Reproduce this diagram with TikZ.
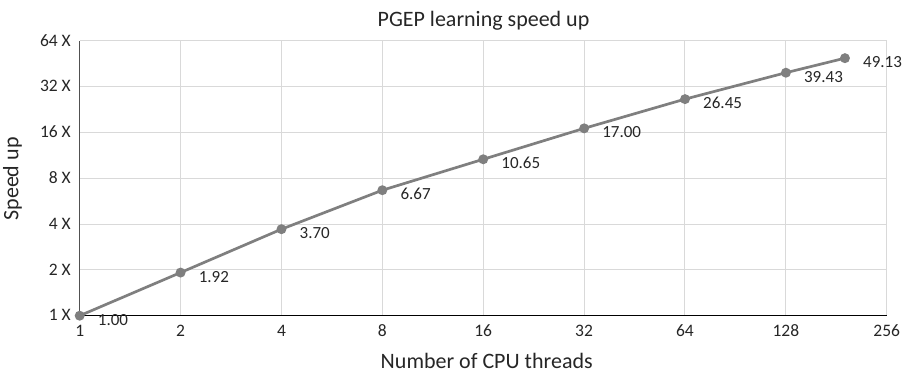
\documentclass[tikz,border=0pt]{standalone}
\usepackage{fontspec}
\setmainfont{Carlito}
\usetikzlibrary{calc}
\definecolor{SeriesGray}{HTML}{7F7F7F}
\definecolor{GridGray}{HTML}{D9D9D9}
\definecolor{InkGray}{HTML}{262626}
\newcommand{\XUnit}{100.875pt}
\newcommand{\YUnit}{45.83pt}
\tikzset{Dot/.style={
    circle,
    inner sep=0pt,
    minimum size=10pt,
    fill=SeriesGray,
    },
  ValLabel/.style={
    anchor=west,
    inner sep=0pt,
    text=InkGray,
    font=\fontsize{17}{19}\selectfont,
    },
}

\begin{document}
\begin{tikzpicture}[x=\XUnit, y=\YUnit,
    grid/.style={GridGray, line width=1pt},
    tick/.style={inner sep=0pt, text=InkGray, font=\fontsize{17.5}{19}\selectfont},
    axtitle/.style={inner sep=0pt, text=InkGray, font=\fontsize{22}{24}\selectfont},
]
\useasboundingbox (-79.7pt,-58.3pt) rectangle (831.3pt,315.7pt);
% grid
\foreach \i in {1,...,8} { \draw[grid] (\i,0) -- (\i,6); }
\foreach \j in {1,...,6} { \draw[grid] (0,\j) -- (8,\j); }
% axes
\draw[InkGray!80, line width=1.3pt] (0,0) -- (0,6);
\draw[black, line width=1.3pt] (0,0) -- (8,0);
% tick labels
\foreach \i/\t in {0/1,1/2,2/4,3/8,4/16,5/32,6/64,7/128,8/256}
  { \node[tick, anchor=base] (xt\i) at ($(\i,0)+(0,-21pt)$) {\t}; }
\foreach \j/\t in {0/1,1/2,2/4,3/8,4/16,5/32,6/64}
  { \node[tick, anchor=base east] (yt\j) at ($(0,\j)+(-8.7pt,-5.3pt)$) {\t\ X}; }
% titles
\node[axtitle, anchor=base] (title) at (403.8pt,289pt) {PGEP learning speed up};
\node[axtitle, anchor=base] (xtitle) at (407pt,-53pt) {Number of CPU threads};
\node[axtitle, anchor=base, rotate=90] (ytitle) at (-61.4pt,136.7pt) {Speed up};
% data
\foreach \n/\t/\s in {1/1/1.00, 2/2/1.92, 3/4/3.70, 4/8/6.67, 5/16/10.65,
    6/32/17.00, 7/64/26.45, 8/128/39.43, 9/192/49.13}
  {
  \pgfmathsetmacro{\lx}{ln(\t)/ln(2)}
  \pgfmathsetmacro{\ly}{ln(\s)/ln(2)}
  \coordinate (p\n) at (\lx,\ly);
  }
\draw[SeriesGray, line width=2.7pt, line join=round]
  (p1) \foreach \n in {2,...,9} { -- (p\n) };
\foreach \n/\s in {1/1.00, 2/1.92, 3/3.70, 4/6.67, 5/10.65,
    6/17.00, 7/26.45, 8/39.43, 9/49.13}
  {
  \node[Dot] (m\n) at (p\n) {};
  \node[ValLabel] (v\n) at ($(p\n)+(18pt,-4pt)$) {\s};
  }
\end{tikzpicture}
\end{document}
